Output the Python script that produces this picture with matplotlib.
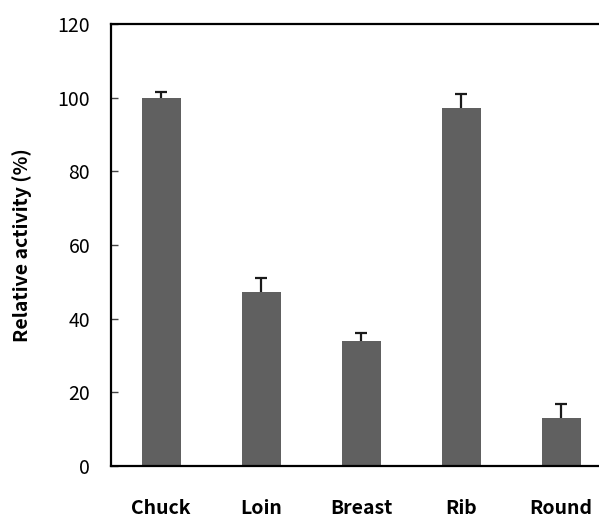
import matplotlib
matplotlib.use("Agg")
import matplotlib.pyplot as plt
import numpy as np

categories = ["Chuck", "Loin", "Breast", "Rib", "Round"]
values = [100.0, 47.2, 33.9, 97.1, 12.9]
errors = [1.5, 3.9, 2.1, 4.0, 3.8]
yticks = [0, 20, 40, 60, 80, 100, 120]

plt.rcParams['font.family'] = ['Noto Sans CJK KR', 'DejaVu Sans']

fig = plt.figure(figsize=(5.99, 5.18), dpi=100)
W, H = 599, 518
left, right, top, bottom = 111, 611, 24, 466
ax = fig.add_axes([left / W, 1 - bottom / H, (right - left) / W, (bottom - top) / H])

x = np.arange(len(categories))
ax.bar(x, values, width=0.39, color='#606060', zorder=2)
eb = ax.errorbar(x, values, yerr=[np.zeros(len(errors)), errors], fmt='none',
                 ecolor='#1a1a1a', elinewidth=1.6, capsize=4, capthick=1.6, zorder=3)
# hide lower caps (only upper error shown)
caplines = eb[1]
if len(caplines) == 2:
    caplines[0].set_visible(False)

ax.set_xlim(-0.5, 4.5)
ax.set_ylim(0, 120)
ax.set_yticks(yticks)
ax.set_yticklabels([str(t) for t in yticks], fontsize=14)
ax.set_xticks(x)
ax.set_xticklabels(categories, fontsize=14, fontweight='bold')
ax.tick_params(axis='x', length=0, pad=24)
ax.tick_params(axis='y', direction='in', length=5, width=1, pad=15, color='#444444')
ax.set_ylabel("Relative activity (%)", fontsize=14, fontweight='bold')
ax.yaxis.set_label_coords(-0.158, 0.5)

for s in ['left', 'top', 'bottom', 'right']:
    ax.spines[s].set_linewidth(1.6)
    ax.spines[s].set_color('black')

fig.savefig("out.png", dpi=100)
